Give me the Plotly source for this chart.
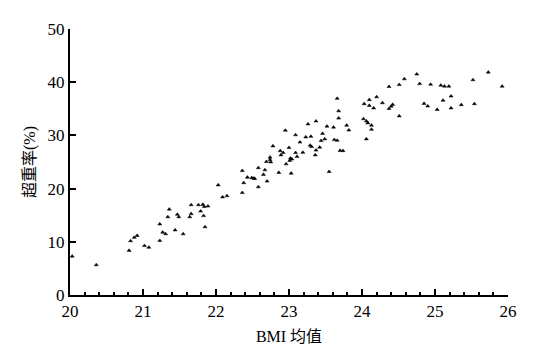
import plotly.graph_objects as go

bmi_mean = [
    20.03, 20.36, 20.81, 20.83, 20.88, 20.92, 21.02, 21.08, 21.23, 21.23,
    21.27, 21.31, 21.34, 21.36, 21.44, 21.47, 21.49, 21.55, 21.64, 21.66,
    21.66, 21.76, 21.79, 21.82, 21.84, 21.83, 21.85, 21.89, 22.03, 22.09,
    22.15, 22.36, 22.38, 22.36, 22.43, 22.49, 22.52, 22.53, 22.58, 22.58,
    22.65, 22.67, 22.69, 22.70, 22.74, 22.74, 22.75, 22.78, 22.86, 22.88,
    22.89, 22.92, 22.95, 22.96, 23.00, 23.02, 23.01, 23.04, 23.03, 23.09,
    23.09, 23.11, 23.15, 23.19, 23.23, 23.26, 23.29, 23.30, 23.31, 23.36,
    23.37, 23.37, 23.42, 23.44, 23.46, 23.49, 23.52, 23.55, 23.61, 23.62,
    23.66, 23.66, 23.68, 23.68, 23.70, 23.74, 23.79, 23.82, 24.03, 24.02,
    24.06, 24.08, 24.13, 24.13, 24.06, 24.10, 24.10, 24.16, 24.20, 24.28,
    24.37, 24.37, 24.40, 24.42, 24.51, 24.51, 24.58, 24.75, 24.79, 24.85,
    24.90, 24.94, 25.03, 25.08, 25.11, 25.13, 25.19, 25.22, 25.22, 25.36,
    25.52, 25.54, 25.73, 25.92,
]
overweight_rate = [
    7.28, 5.66, 8.36, 10.16, 10.81, 11.17, 9.26, 8.95, 10.22, 13.33,
    11.78, 11.48, 14.67, 16.11, 12.20, 15.14, 14.67, 11.48, 14.67, 15.26,
    16.94, 16.94, 15.75, 17.01, 16.61, 14.90, 12.79, 16.70, 20.67, 18.41,
    18.63, 19.23, 21.08, 23.37, 22.11, 22.02, 21.93, 21.87, 20.31, 23.91,
    22.65, 23.50, 25.05, 21.39, 25.89, 25.41, 24.99, 28.00, 23.01, 27.10,
    26.31, 26.74, 30.94, 24.63, 27.69, 25.71, 25.26, 25.53, 22.88, 30.09,
    26.74, 26.02, 28.72, 26.79, 29.68, 32.14, 28.11, 29.80, 27.87, 26.31,
    32.68, 27.21, 27.75, 29.01, 30.34, 29.32, 31.71, 23.19, 31.53, 29.19,
    29.05, 36.94, 34.59, 33.23, 27.15, 27.10, 31.89, 30.99, 35.93, 33.10,
    32.68, 32.32, 31.89, 31.12, 29.32, 36.70, 35.62, 35.14, 37.24, 36.11,
    39.17, 35.03, 35.44, 35.80, 39.53, 33.64, 40.61, 41.51, 39.71, 35.98,
    35.50, 39.59, 34.85, 39.41, 36.58, 39.23, 39.23, 37.37, 35.14, 35.75,
    40.43, 35.93, 41.87, 39.23,
]
x_ticks = [20, 21, 22, 23, 24, 25, 26]
y_ticks = [0, 10, 20, 30, 40, 50]

fig = go.Figure(
    go.Scatter(
        x=bmi_mean,
        y=overweight_rate,
        mode="markers",
        marker=dict(symbol="triangle-up", size=3.5, color="black", line=dict(width=0.5, color="black")),
        hoverinfo="skip",
    )
)

serif = "Liberation Serif, Noto Sans CJK SC, serif"

fig.update_layout(
    width=538,
    height=347,
    margin=dict(l=62, r=38, t=14, b=54),
    paper_bgcolor="white",
    plot_bgcolor="white",
    showlegend=False,
    font=dict(family=serif, size=16, color="black"),
)
fig.update_xaxes(
    range=[20, 26],
    tickvals=x_ticks,
    ticktext=[str(v) for v in x_ticks],
    ticks="inside",
    ticklen=6,
    tickwidth=2,
    tickcolor="black",
    showline=True,
    linecolor="black",
    linewidth=2,
    showgrid=False,
    zeroline=False,
    minor=dict(dtick=0.2, ticks="inside", ticklen=3, tickwidth=1.5, tickcolor="black", showgrid=False),
    title=dict(text="BMI 均值", standoff=10, font=dict(family=serif, size=16, color="black")),
    tickfont=dict(family=serif, size=17, color="black"),
)
fig.update_yaxes(
    range=[0, 50],
    tickvals=y_ticks,
    ticktext=[str(v) for v in y_ticks],
    ticks="inside",
    ticklen=6,
    tickwidth=1.5,
    tickcolor="black",
    showline=True,
    linecolor="black",
    linewidth=2,
    showgrid=False,
    zeroline=False,
    title=dict(text="超重率(%)", standoff=8, font=dict(family=serif, size=16, color="black")),
    tickfont=dict(family=serif, size=17, color="black"),
)

fig.write_html("out.html")
